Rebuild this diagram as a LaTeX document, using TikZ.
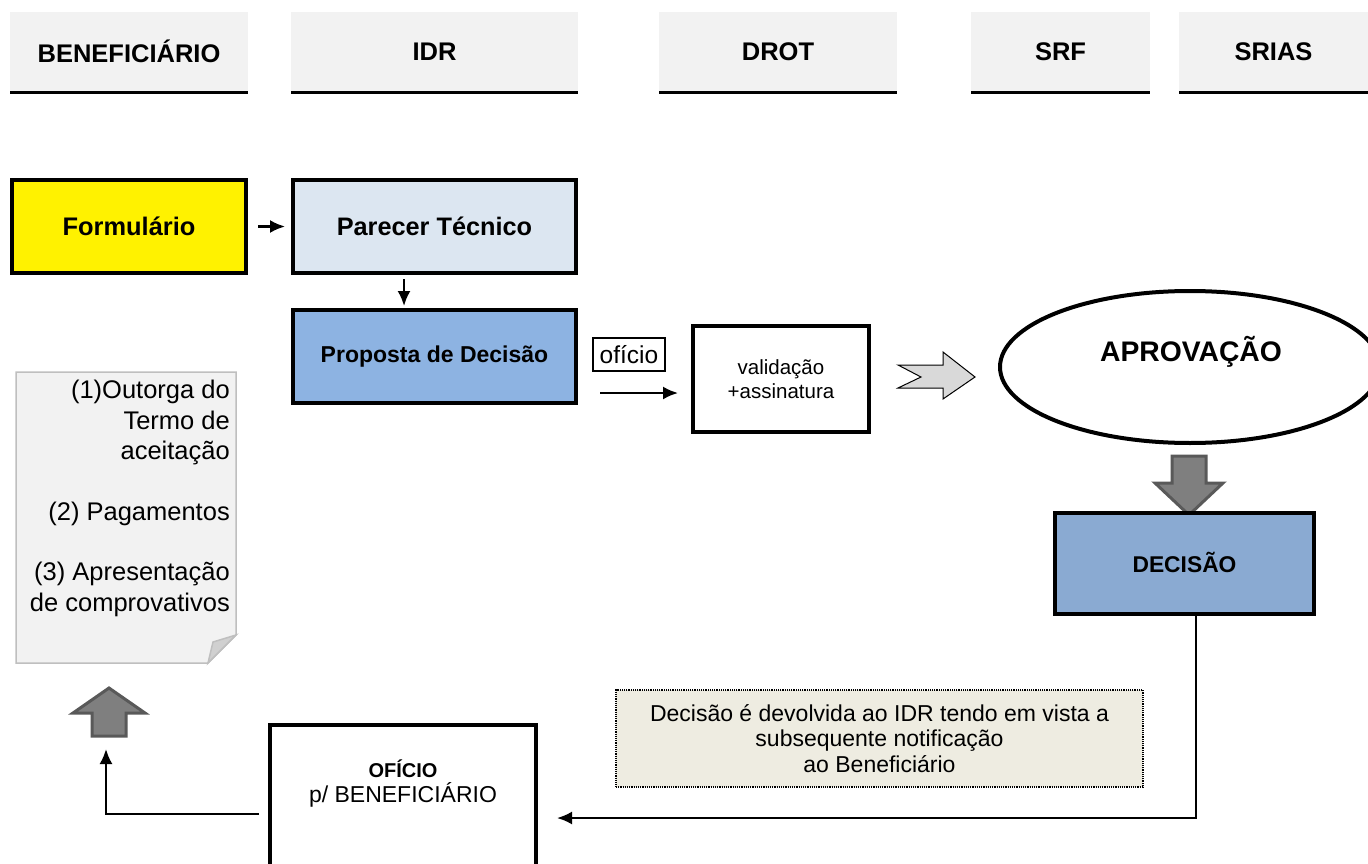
\documentclass[tikz,border=0pt]{standalone}
\usepackage{fontspec}
\setmainfont{Liberation Sans}
\usetikzlibrary{arrows.meta,shapes.geometric}
\definecolor{hdrgray}{RGB}{242,242,242}
\definecolor{parecerc}{RGB}{220,230,241}
\definecolor{propostac}{RGB}{141,179,226}
\definecolor{decisaoc}{RGB}{138,170,210}
\definecolor{notefill}{RGB}{238,236,225}
\definecolor{chevc}{RGB}{217,217,217}
\definecolor{blkfill}{RGB}{127,127,127}
\definecolor{blkdraw}{RGB}{89,89,89}
\definecolor{docfill}{RGB}{242,242,242}
\definecolor{docdraw}{RGB}{191,191,191}
\definecolor{foldc}{RGB}{208,208,208}
\begin{document}
\begin{tikzpicture}[x=1pt,y=-1pt,
  hdr/.style={fill=hdrgray, minimum height=79pt, inner sep=0pt, outer sep=0pt, font=\fontsize{25.5}{29}\selectfont\bfseries},
  box/.style={draw, line width=4pt, inner sep=0pt, outer sep=0pt},
  arr/.style={-{Latex[length=15pt,width=13pt]}, line width=2.2pt},
  blk/.style={fill=blkfill, draw=blkdraw, line width=3pt, line join=miter}
]
\path[use as bounding box] (0,0) rectangle (1368,864);

% headers
\node[hdr, minimum width=238pt] (hBen) at (129,51.5) {BENEFICIÁRIO};
\node[hdr, minimum width=287pt] (hIdr) at (434.5,51.5) {IDR};
\node[hdr, minimum width=238pt] (hDrot) at (778,51.5) {DROT};
\node[hdr, minimum width=179pt] (hSrf) at (1060.5,51.5) {SRF};
\node[hdr, minimum width=189pt] (hSrias) at (1273.5,51.5) {SRIAS};
\foreach \h in {hBen,hIdr,hDrot,hSrf,hSrias}
  \draw[line width=3pt] ([yshift=-1.5pt]\h.south west) -- ([yshift=-1.5pt]\h.south east);

% main boxes
\node[box, fill=yellow, minimum width=234pt, minimum height=93pt,
      font=\fontsize{25.4}{29}\selectfont\bfseries] (form) at (129,226.5) {Formulário};
\node[box, fill=parecerc, minimum width=283pt, minimum height=93pt,
      font=\fontsize{25.3}{29}\selectfont\bfseries] (parecer) at (434.5,226.5) {Parecer Técnico};
\node[box, fill=propostac, minimum width=283pt, minimum height=93pt,
      font=\fontsize{23}{27}\selectfont\bfseries] (proposta) at (434.5,356.5) {Proposta de Decisão};
\node[draw, line width=1.5pt, inner sep=0pt, outer sep=0pt, minimum width=72pt, minimum height=33pt,
      font=\fontsize{24.5}{28}\selectfont] (oficio) at (629,354.5) {ofício};
\node[box, fill=white, minimum width=176pt, minimum height=106pt, align=center,
      font=\fontsize{20.5}{24}\selectfont] (valid) at (781,379) {validação\\+assinatura};

% chevron
\draw[fill=chevc, line width=1pt, line join=miter]
  (898,365) -- (943,365) -- (943,352) -- (975,377) -- (943,399) -- (943,388) -- (898,388) -- (921,377) -- cycle;

% ellipse
\node[ellipse, draw, line width=4pt, minimum width=380pt, minimum height=152pt, inner sep=0pt] (aprov) at (1190,367) {};
\node[font=\fontsize{28.3}{32}\selectfont\bfseries] (aprovt) at (1191,352) {APROVAÇÃO};

% down block arrow
\draw[blk] (1172,456) -- (1206,456) -- (1206,483) -- (1223,483) -- (1189,515) -- (1155,483) -- (1172,483) -- cycle;

% decisao
\node[box, fill=decisaoc, minimum width=259pt, minimum height=101pt,
      font=\fontsize{22.8}{26}\selectfont\bfseries] (dec) at (1184.5,563.5) {\raisebox{3pt}{DECISÃO}};

% note
\node[draw, densely dotted, line width=1.2pt, fill=notefill, minimum width=527pt, minimum height=97pt,
      inner sep=0pt, align=center, font=\fontsize{23}{25.5}\selectfont] (note) at (879.5,738.5)
  {Decisão é devolvida ao IDR tendo em vista a\\subsequente notificação\\ao Beneficiário};

% oficio box
\node[box, fill=white, minimum width=266pt, minimum height=147pt] (ofic) at (403,798.5) {};
\node[align=center, inner sep=0pt, font=\fontsize{23}{25}\selectfont] (ofict) at (403,784)
  {{\fontsize{20}{24}\selectfont\bfseries OFÍCIO}\\p/ BENEFICIÁRIO};

% document
\draw[fill=docfill, draw=docdraw, line width=1.5pt, line join=miter]
  (16,372) -- (236,372) -- (236,635) -- (208,663) -- (16,663) -- cycle;
\draw[fill=foldc, draw=docdraw, line width=1.5pt, line join=miter]
  (236,635) -- (213,642) -- (208,663) -- cycle;
\node[anchor=north east, align=right, inner sep=0pt, font=\fontsize{25.5}{30.5}\selectfont] (doc) at (230,380)
  {(1)Outorga do\\Termo de\\aceitação\\[30pt](2) Pagamentos\\[30pt](3) Apresentação\\de comprovativos};

% up block arrow
\draw[blk] (92,736) -- (126,736) -- (126,713) -- (145,713) -- (109,688) -- (73,713) -- (92,713) -- cycle;

% connectors
\draw[arr] ([xshift=12pt]form.east) -- ([xshift=-8pt]parecer.west);
\draw[arr] ([xshift=-30.5pt,yshift=-6pt]parecer.south) -- ([xshift=-30.5pt,yshift=4pt]proposta.north);
\coordinate (ofs) at (600,393);
\draw[arr] (ofs) -- ([xshift=-15pt]ofs -| valid.west);
\coordinate (retEnd) at (557,818);
\draw[arr] ([xshift=11.5pt]dec.south) |- (retEnd);
\coordinate (upEnd) at (106,749);
\draw[arr] ([xshift=-11pt,yshift=-15.5pt]ofic.west) -| (upEnd);
\end{tikzpicture}
\end{document}
